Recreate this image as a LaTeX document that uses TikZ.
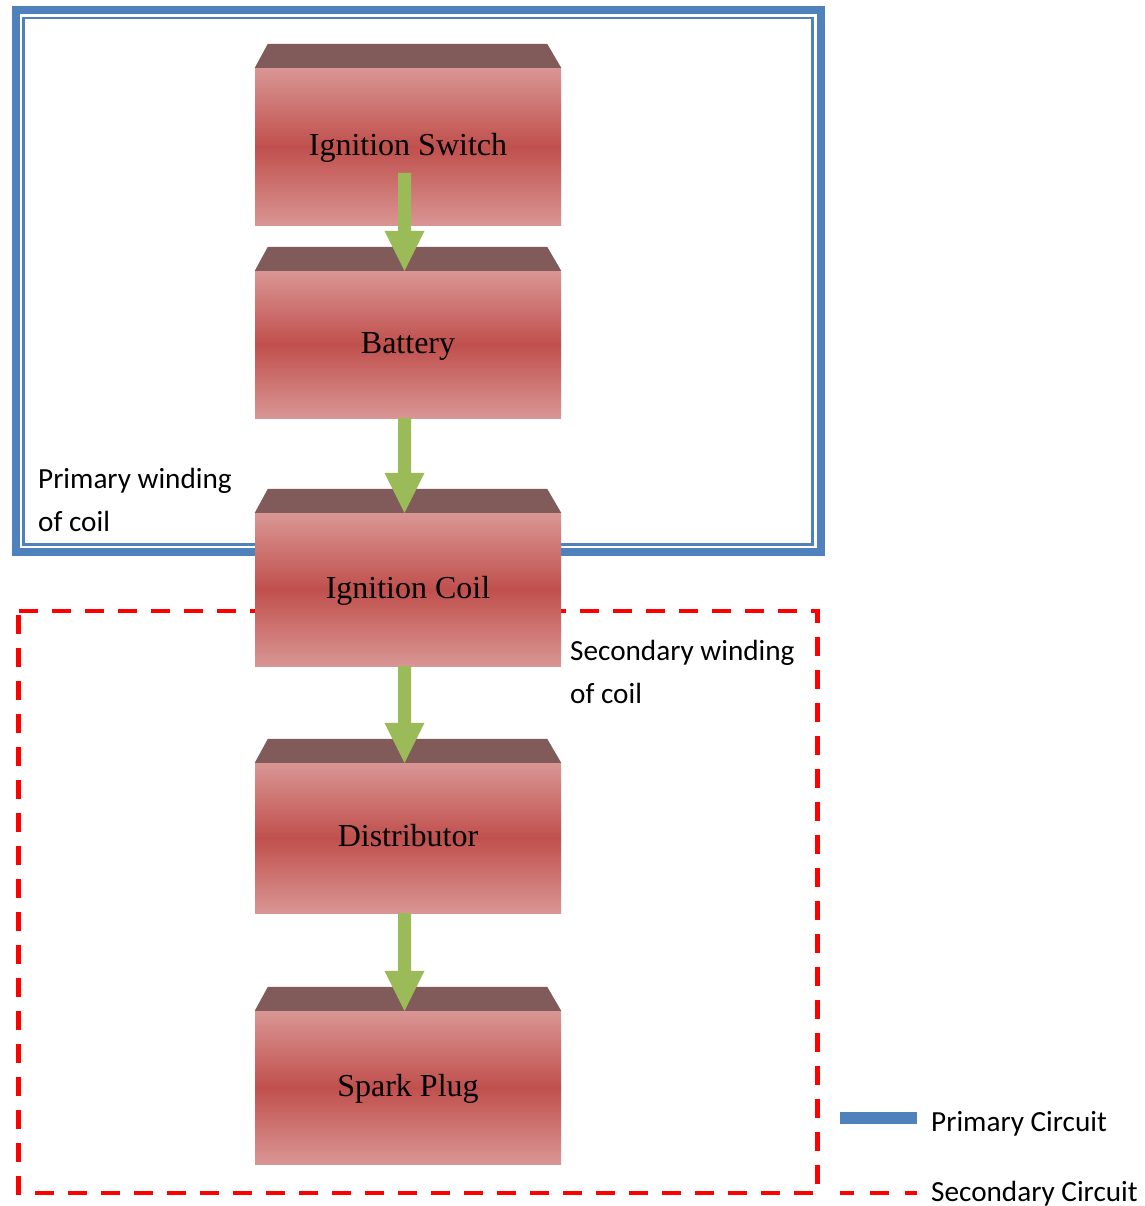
\documentclass[tikz,border=0pt]{standalone}
\usepackage{fontspec}
\setmainfont{Liberation Serif}
\newfontfamily\calfont{Carlito}
\usetikzlibrary{calc}
\definecolor{blueline}{HTML}{4F81BD}
\definecolor{boxlight}{HTML}{D99694}
\definecolor{boxdark}{HTML}{C0504D}
\definecolor{boxtop}{HTML}{815A5A}
\definecolor{arrowgreen}{HTML}{9BBB59}
\definecolor{dashred}{HTML}{FF0000}
\newcommand\topface[1]{\fill[boxtop] (#1.north west) -- ++(13,-24) -- ($(#1.north east)+(-14,-24)$) -- (#1.north east) -- cycle;}
\newcommand\greenarrow[2]{\path[fill=arrowgreen] let \p1=(#1), \p2=(#2) in
  (\x1-6.5pt,\y1) -- (\x1+6.5pt,\y1) -- (\x1+6.5pt,\y2+40pt) -- (\x1+20pt,\y2+40pt) --
  (\x1,\y2) -- (\x1-20pt,\y2+40pt) -- (\x1-6.5pt,\y2+40pt) -- cycle;}
\begin{document}
\begin{tikzpicture}[x=1pt,y=-1pt,
  bodybox/.style={draw=none, minimum width=306pt, inner sep=0pt,
    top color=boxlight, bottom color=boxlight, middle color=boxdark,
    text height=23pt, text depth=6pt,
    font=\fontsize{32}{38}\selectfont},
  lbl/.style={inner sep=0pt, anchor=base west, font=\calfont\fontsize{29.2}{35}\selectfont},
  bluethick/.style={draw=blueline, line width=8pt},
  bluethin/.style={draw=blueline, line width=2.8pt},
  reddash/.style={draw=dashred, line width=4.2pt, dash pattern=on 19pt off 14pt}]
\useasboundingbox (0,0) rectangle (1144,1206);
% primary circuit frame
\draw[bluethick] (15.5,10) rectangle (821,552);
\draw[bluethin] (23.5,18) rectangle (812.5,544.5);
% secondary circuit frame
\draw[reddash] (18.5,611) -- (817.5,611) -- (817.5,1193) -- (18.5,1193) -- cycle;
% boxes
\node[bodybox, minimum height=158pt] (sw) at (408,147) {Ignition Switch};
\node[bodybox, minimum height=147pt] (bat) at (408,344.5) {Battery};
\node[bodybox, minimum height=153pt] (coil) at (408,589.5) {Ignition Coil};
\node[bodybox, minimum height=150pt] (dist) at (408,838) {Distributor};
\node[bodybox, minimum height=153pt] (spark) at (408,1087.5) {Spark Plug};
\topface{sw}
\topface{bat}
\topface{coil}
\topface{dist}
\topface{spark}
% arrows
\coordinate (ax) at (404.5,173);
\greenarrow{ax}{ax |- bat.north}
\greenarrow{ax |- bat.south}{ax |- coil.north}
\greenarrow{ax |- coil.south}{ax |- dist.north}
\greenarrow{ax |- dist.south}{ax |- spark.north}
% labels
\node[lbl] (pw1) at (38,488) {Primary winding};
\node[lbl] (pw2) at (38,531) {of coil};
\node[lbl] (sw1) at (570,660) {Secondary winding};
\node[lbl] (sw2) at (570,703) {of coil};
% legend
\coordinate (lb1) at (840,1118);
\coordinate (lb2) at (917,1118);
\draw[draw=blueline, line width=12pt] (lb1) -- (lb2);
\coordinate (lr1) at (840,1193);
\coordinate (lr2) at (917,1193);
\draw[reddash, dash pattern=on 19pt off 16pt, dash phase=5pt] (lr1) -- (lr2);
\node[lbl] (lg1) at (931,1131) {Primary Circuit};
\node[lbl] (lg2) at (931,1201) {Secondary Circuit};
\end{tikzpicture}
\end{document}
